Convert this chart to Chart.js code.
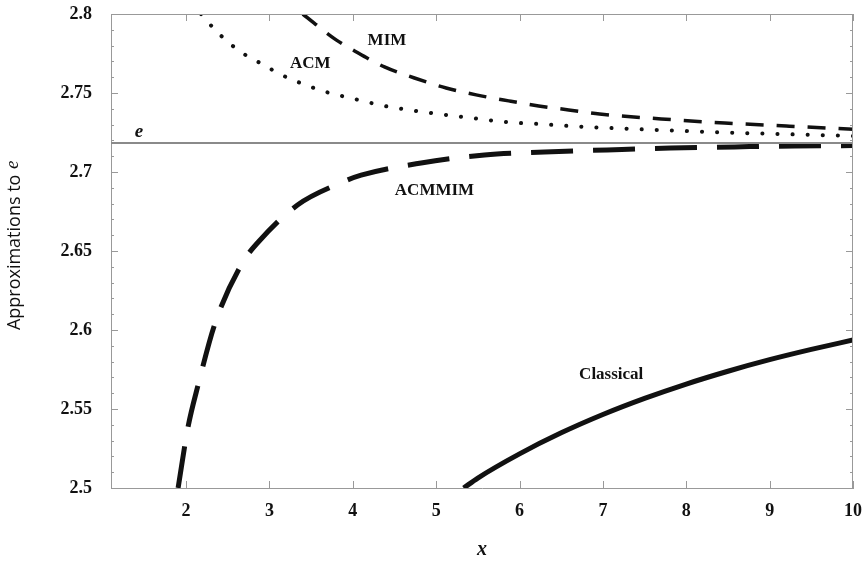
<!DOCTYPE html>
<html>
<head>
<meta charset="utf-8">
<script src="https://cdn.jsdelivr.net/npm/chart.js@4.4.1/dist/chart.umd.min.js"></script>
<style>
  html, body { margin: 0; padding: 0; background: #fff; }
  #wrap { width: 866px; height: 565px; }
</style>
</head>
<body>
<div id="wrap"><canvas id="chart" width="866" height="565"></canvas></div>
<script>
// values
const xTicks = [2, 3, 4, 5, 6, 7, 8, 9, 10];
const yTicks = [2.5, 2.55, 2.6, 2.65, 2.7, 2.75, 2.8];
const yTickLabels = ['2.5', '2.55', '2.6', '2.65', '2.7', '2.75', '2.8'];

const eValue = 2.71828;

const classicalX = [5.33, 5.5, 6, 6.5, 7, 7.5, 8, 8.5, 9, 9.5, 10];
const classicalY = [2.5, 2.5063, 2.5216, 2.5349, 2.5465, 2.5567, 2.5658, 2.5739, 2.5812, 2.5877, 2.5937];

const acmX = [2.18, 2.35, 2.53, 2.73, 2.91, 3.10, 3.28, 3.64, 4.02, 4.38, 4.76, 5.12, 5.51, 5.88, 6.24, 6.60, 7.34, 8.48, 9.59, 10];
const acmY = [2.8, 2.7899, 2.7811, 2.7735, 2.7684, 2.7627, 2.7583, 2.7513, 2.7462, 2.7418, 2.7386, 2.7361, 2.7336, 2.7314, 2.7304, 2.7291, 2.7273, 2.7250, 2.7234, 2.7228];

const mimX = [3.40, 3.80, 4.00, 4.38, 4.74, 5.12, 5.48, 5.87, 6.23, 6.59, 6.96, 7.70, 8.46, 9.20, 10];
const mimY = [2.8, 2.7836, 2.7773, 2.7665, 2.7595, 2.7532, 2.7488, 2.745, 2.7418, 2.7393, 2.7367, 2.7336, 2.731, 2.7291, 2.727];

const acmmimX = [1.905, 2.024, 2.145, 2.349, 2.675, 2.867, 3.337, 3.855, 4.10, 4.82, 5.58, 6.30, 7.05, 7.81, 8.58, 9.30, 10];
const acmmimY = [2.5, 2.5386, 2.5652, 2.6044, 2.6424, 2.6557, 2.6791, 2.6931, 2.698, 2.7057, 2.7108, 2.7127, 2.714, 2.7152, 2.7159, 2.7165, 2.7167];

// curve labels: text, x, y (data units), italic
const curveLabels = [
  ['MIM', 4.41, 2.783, false],
  ['ACM', 3.49, 2.7684, false],
  ['e', 1.436, 2.7254, true],
  ['ACMMIM', 4.98, 2.688, false],
  ['Classical', 7.10, 2.5715, false]
];

const toPoints = (xs, ys) => xs.map((x, i) => ({ x: x, y: ys[i] }));

const ink = '#111';
const serif = '"Liberation Serif", "DejaVu Serif", serif';

// inward ticks, frame and curve labels
const decorPlugin = {
  id: 'decor',
  afterDraw(chart) {
    const ctx = chart.ctx;
    const a = chart.chartArea;
    const xs = chart.scales.x, ys = chart.scales.y;
    ctx.save();
    ctx.strokeStyle = '#999';
    ctx.lineWidth = 1;
    // top and right frame
    ctx.beginPath();
    ctx.moveTo(a.left, a.top + 0.5); ctx.lineTo(a.right, a.top + 0.5);
    ctx.moveTo(a.right - 0.5, a.top); ctx.lineTo(a.right - 0.5, a.bottom);
    ctx.stroke();
    // y ticks, major and minor, both sides
    ctx.beginPath();
    for (let i = 0; i <= 30; i++) {
      const v = 2.5 + i * 0.01;
      const py = Math.round(ys.getPixelForValue(v)) + 0.5;
      const len = (i % 5 === 0) ? 7 : 3;
      ctx.moveTo(a.left, py); ctx.lineTo(a.left + len, py);
      ctx.moveTo(a.right, py); ctx.lineTo(a.right - len, py);
    }
    // x ticks bottom and top
    xTicks.forEach(v => {
      const px = Math.round(xs.getPixelForValue(v)) + 0.5;
      ctx.moveTo(px, a.bottom); ctx.lineTo(px, a.bottom - 7);
      ctx.moveTo(px, a.top); ctx.lineTo(px, a.top + 7);
    });
    ctx.stroke();

    // curve labels
    ctx.fillStyle = ink;
    ctx.textAlign = 'center';
    ctx.textBaseline = 'middle';
    curveLabels.forEach(([t, x, y, it]) => {
      ctx.font = it ? 'italic bold 19px ' + serif : 'bold 17px ' + serif;
      ctx.fillText(t, xs.getPixelForValue(x), ys.getPixelForValue(y));
    });

    // y axis title
    ctx.translate(15, 242);
    ctx.rotate(-Math.PI / 2);
    ctx.font = '500 18px "Open Sans", sans-serif';
    const w = ctx.measureText('Approximations to ').width;
    ctx.fillText('Approximations to ', -8, 0);
    ctx.font = 'italic 19px ' + serif;
    ctx.fillText('e', -8 + w / 2 + 5, -2);
    ctx.restore();
  }
};

new Chart(document.getElementById('chart'), {
  type: 'scatter',
  data: {
    datasets: [
      {
        label: 'e',
        data: toPoints([1.1, 10], [eValue, eValue]),
        borderColor: '#8a8a8a',
        borderWidth: 2,
        showLine: true,
        pointRadius: 0
      },
      {
        label: 'Classical',
        data: toPoints(classicalX, classicalY),
        borderColor: ink,
        borderWidth: 5,
        showLine: true,
        pointRadius: 0,
        cubicInterpolationMode: 'monotone'
      },
      {
        label: 'ACM',
        data: toPoints(acmX, acmY),
        borderColor: ink,
        borderWidth: 4,
        borderDash: [0.1, 15],
        borderCapStyle: 'round',
        showLine: true,
        pointRadius: 0,
        cubicInterpolationMode: 'monotone'
      },
      {
        label: 'MIM',
        data: toPoints(mimX, mimY),
        borderColor: ink,
        borderWidth: 3.5,
        borderDash: [18, 13],
        showLine: true,
        pointRadius: 0,
        cubicInterpolationMode: 'monotone'
      },
      {
        label: 'ACMMIM',
        data: toPoints(acmmimX, acmmimY),
        borderColor: ink,
        borderWidth: 5,
        borderDash: [42, 20],
        showLine: true,
        pointRadius: 0,
        cubicInterpolationMode: 'monotone'
      }
    ]
  },
  options: {
    responsive: false,
    animation: false,
    layout: { padding: { left: 0, top: 14, right: 13, bottom: 0 } },
    plugins: {
      legend: { display: false },
      tooltip: { enabled: false }
    },
    scales: {
      x: {
        type: 'linear',
        min: 1.1,
        max: 10,
        afterBuildTicks: scale => { scale.ticks = xTicks.map(v => ({ value: v })); },
        afterFit: scale => {
          scale.height = 77;
          scale.paddingLeft = 0;
          scale.paddingRight = 0;
        },
        grid: { display: false, drawTicks: false },
        border: { display: true, color: '#999', width: 1 },
        ticks: {
          color: ink,
          padding: 13,
          font: { family: serif, size: 18, weight: 'bold' },
          maxRotation: 0
        },
        title: {
          display: true,
          text: 'x',
          color: ink,
          font: { family: serif, size: 20, style: 'italic', weight: 'bold' },
          padding: { top: 0, bottom: 3 }
        }
      },
      y: {
        type: 'linear',
        min: 2.5,
        max: 2.8,
        afterBuildTicks: scale => { scale.ticks = yTicks.map(v => ({ value: v })); },
        afterFit: scale => {
          scale.width = 111;
          scale.paddingTop = 0;
          scale.paddingBottom = 0;
        },
        grid: { display: false, drawTicks: false },
        border: { display: true, color: '#999', width: 1 },
        ticks: {
          color: ink,
          padding: 19,
          font: { family: serif, size: 18, weight: 'bold' },
          callback: (v, i) => yTickLabels[i]
        }
      }
    }
  },
  plugins: [decorPlugin]
});
</script>
</body>
</html>
